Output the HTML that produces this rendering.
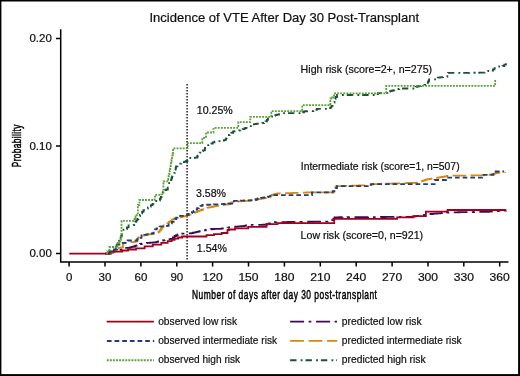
<!DOCTYPE html>
<html><head><meta charset="utf-8"><style>
html,body{margin:0;padding:0;background:#fff;}
body{width:520px;height:376px;overflow:hidden;}
svg{display:block;}
text{font-family:"Liberation Sans",sans-serif;fill:#111;stroke:#111;stroke-width:0.22px;}
</style></head><body>
<svg style="will-change:transform" width="520" height="376" viewBox="0 0 520 376">
<rect x="0" y="0" width="520" height="376" fill="#fff"/>
<!-- border -->
<rect x="0" y="0" width="1.4" height="376" fill="#000"/><rect x="0" y="0" width="520" height="1.5" fill="#000"/><rect x="518.1" y="0" width="1.9" height="376" fill="#000"/><rect x="0" y="374.1" width="520" height="1.9" fill="#000"/>

<!-- title -->
<text x="149.5" y="21.6" font-size="13.6" textLength="269.5" lengthAdjust="spacingAndGlyphs">Incidence of VTE After Day 30 Post-Transplant</text>

<!-- axes -->
<g stroke="#000" stroke-width="1.5" fill="none">
<path d="M60.7,29.3 V262.1 H508.5"/>
<path d="M56,38.4 H60 M56,145.9 H60 M56,253.5 H60"/>
<path d="M69.1,262 V266.5 M105,262 V266.5 M140.9,262 V266.5 M176.8,262 V266.5 M212.6,262 V266.5 M248.5,262 V266.5 M284.4,262 V266.5 M320.3,262 V266.5 M356.2,262 V266.5 M392.1,262 V266.5 M428,262 V266.5 M463.8,262 V266.5 M499.7,262 V266.5"/>
</g>

<!-- y tick labels -->
<g font-size="11.5" text-anchor="end">
<text x="51.8" y="42.2">0.20</text>
<text x="51.8" y="149.7">0.10</text>
<text x="51.8" y="257.3">0.00</text>
</g>
<!-- x tick labels -->
<g font-size="11.5" text-anchor="middle">
<text x="69.1" y="280.8">0</text>
<text x="105" y="280.8">30</text>
<text x="140.9" y="280.8">60</text>
<text x="176.8" y="280.8">90</text>
<text x="212.6" y="280.8" textLength="20.2" lengthAdjust="spacingAndGlyphs">120</text>
<text x="248.5" y="280.8" textLength="20.2" lengthAdjust="spacingAndGlyphs">150</text>
<text x="284.4" y="280.8" textLength="20.2" lengthAdjust="spacingAndGlyphs">180</text>
<text x="320.3" y="280.8" textLength="20.2" lengthAdjust="spacingAndGlyphs">210</text>
<text x="356.2" y="280.8" textLength="20.2" lengthAdjust="spacingAndGlyphs">240</text>
<text x="392.1" y="280.8" textLength="20.2" lengthAdjust="spacingAndGlyphs">270</text>
<text x="428" y="280.8" textLength="20.2" lengthAdjust="spacingAndGlyphs">300</text>
<text x="463.8" y="280.8" textLength="20.2" lengthAdjust="spacingAndGlyphs">330</text>
<text x="499.7" y="280.8" textLength="20.2" lengthAdjust="spacingAndGlyphs">360</text>
</g>

<!-- axis titles -->
<text transform="translate(192,299.2) scale(0.63,1)" x="0" y="0" font-size="13.4" textLength="293.6" lengthAdjust="spacing" style="fill:#000;stroke:#000;stroke-width:0.5">Number of days after day 30 post-transplant</text>
<text transform="translate(21.3,167.2) rotate(-90) scale(0.63,1)" x="0" y="0" font-size="13.2" textLength="67.5" lengthAdjust="spacing" style="fill:#000;stroke:#000;stroke-width:0.5">Probability</text>

<!-- vertical dotted line at day 100 -->
<path d="M187.1,84 V261" stroke="#111" stroke-width="1.4" stroke-dasharray="1.5 1.5" fill="none"/>

<!-- annotations -->
<g font-size="10.6">
<text x="196.8" y="113.7">10.25%</text>
<text x="196" y="196.8">3.58%</text>
<text x="196.8" y="252.3">1.54%</text>
<text x="300.6" y="73.0" textLength="131.5" lengthAdjust="spacingAndGlyphs">High risk (score=2+, n=275)</text>
<text x="300.8" y="169.8" textLength="158.8" lengthAdjust="spacingAndGlyphs">Intermediate risk (score=1, n=507)</text>
<text x="300.6" y="238.7">Low risk (score=0, n=921)</text>
</g>

<!-- curves -->
<g fill="none" stroke-width="1.8" stroke-linejoin="miter">
<!-- predicted low (purple dash-dot) -->
<path stroke="#3e0a55" stroke-dasharray="14 4.5 2.7 4.8" d="M105.00,253.60L109.00,253.60H111.00V252.70H113.00V251.80H114.53V251.13H116.07V250.47H117.60V249.80L122.30,249.80H123.75V248.80H125.20V247.80L128.10,247.80H129.90V247.37H131.70V246.93H133.50V246.50H135.03V245.87H136.57V245.23H138.10V244.60H140.00V244.00H141.72V243.72H143.45V243.45H145.18V243.18H146.90V242.90H148.52V242.78H150.14V242.66H151.76V242.54H153.38V242.42H155.00V242.30H156.57V241.88H158.15V241.45H159.73V241.03H161.30V240.60H162.93V240.30H164.57V240.00H166.20V239.70H167.83V239.40H169.47V239.10H171.10V238.80H172.85V237.40H174.60V236.00H176.13V235.23H177.67V234.47H179.20V233.70H180.69V233.66H182.17V233.61H183.66V233.57H185.14V233.53H186.63V233.49H188.11V233.44H189.60V233.40H191.32V233.03H193.05V232.65H194.78V232.28H196.50V231.90H198.00V231.55H199.50V231.20H201.00V230.85H202.50V230.50H204.13V230.25H205.77V230.00H207.40V229.75H209.03V229.50H210.67V229.25H212.30V229.00H214.03V228.95H215.75V228.90H217.47V228.85H219.20V228.80H220.92V228.55H222.65V228.30H224.38V228.05H226.10V227.80H227.65V227.62H229.20V227.43H230.75V227.25H232.30V227.07H233.85V226.88H235.40V226.70H236.90V226.58H238.40V226.46H239.90V226.34H241.40V226.22H242.90V226.10H244.32V225.80H245.75V225.50H247.18V225.20H248.60V224.90L261.20,224.90H262.80V224.77H264.40V224.63H266.00V224.50H267.43V223.93H268.85V223.35H270.27V222.77H271.70V222.20H273.30V222.18H274.89V222.16H276.49V222.14H278.09V222.12H279.69V222.11H281.28V222.09H282.88V222.07H284.48V222.05H286.08V222.03H287.67V222.01H289.27V221.99H290.87V221.97H292.46V221.95H294.06V221.94H295.66V221.92H297.26V221.90H298.85V221.88H300.45V221.86H302.05V221.84H303.65V221.82H305.24V221.80H306.84V221.78H308.44V221.76H310.04V221.75H311.63V221.73H313.23V221.71H314.83V221.69H316.42V221.67H318.02V221.65H319.62V221.63H321.22V221.61H322.81V221.59H324.41V221.58H326.01V221.56H327.61V221.54H329.20V221.52H330.80V221.50H332.07V220.10H333.33V218.70H334.60V217.30H336.20V217.29H337.80V217.28H339.39V217.27H340.99V217.26H342.59V217.25H344.19V217.24H345.79V217.23H347.38V217.22H348.98V217.21H350.58V217.20H352.18V217.19H353.78V217.18H355.37V217.16H356.97V217.15H358.57V217.14H360.17V217.13H361.76V217.12H363.36V217.11H364.96V217.10H366.56V217.09H368.16V217.08H369.75V217.07H371.35V217.06H372.95V217.05H374.55V217.04H376.15V217.03H377.74V217.02H379.34V217.01H380.94V217.00H382.54V216.99H384.14V216.98H385.73V216.97H387.33V216.96H388.93V216.95H390.53V216.94H392.12V216.93H393.72V216.91H395.32V216.90H396.92V216.89H398.52V216.88H400.11V216.87H401.71V216.86H403.31V216.85H404.91V216.84H406.51V216.83H408.10V216.82H409.70V216.81H411.30V216.80H412.90V216.55H414.50V216.30H416.10V216.05H417.70V215.80H419.30V215.55H420.90V215.30H422.50V215.05H424.10V214.80H425.70V214.55H427.30V214.30H428.93V214.15H430.56V214.01H432.19V213.86H433.82V213.72H435.45V213.57H437.08V213.42H438.72V213.28H440.35V213.13H441.98V212.98H443.61V212.84H445.24V212.69H446.87V212.55H448.50V212.40H450.10V212.38H451.70V212.35H453.30V212.33H454.90V212.30H456.50V212.28H458.10V212.25H459.70V212.22H461.30V212.20H462.90V212.18H464.50V212.15H466.10V212.12H467.70V212.10H469.30V212.08H470.90V212.05H472.50V212.03H474.10V212.00H475.70V211.98H477.30V211.95H478.90V211.93H480.50V211.90H482.10V211.88H483.70V211.85H485.30V211.83H486.90V211.80H488.44V211.66H489.98V211.52H491.52V211.38H493.06V211.24H494.60V211.10H496.23V211.01H497.86V210.93H499.49V210.84H501.11V210.76H502.74V210.67H504.37V210.59H506.00V210.50"/>
<!-- predicted intermediate (orange dashed) -->
<path stroke="#da870c" stroke-dasharray="13.8 4.7" d="M105.00,253.60L108.00,253.60H110.00V252.55H112.00V251.50H113.87V250.33H115.73V249.17H117.60V248.00L119.40,248.00H121.15V247.30H122.90V246.60L122.90,243.40H124.10V242.80H125.55V242.65H127.00V242.50H128.62V242.35H130.25V242.20H131.88V242.05H133.50V241.90H134.85V241.60H136.20V241.30H137.15V239.30H138.10V237.30H139.60V236.76H141.10V236.22H142.60V235.68H144.10V235.14H145.60V234.60H147.20V234.46H148.80V234.32H150.40V234.18H152.00V234.04H153.60V233.90H155.17V233.23H156.73V232.57H158.30V231.90H159.62V230.25H160.95V228.60H162.28V226.95H163.60V225.30H165.37V224.17H167.13V223.03H168.90V221.90H170.47V220.80H172.03V219.70H173.60V218.60H175.37V218.17H177.13V217.73H178.90V217.30H180.55V216.98H182.20V216.65H183.85V216.32H185.50V216.00H187.16V215.34H188.81V214.69H190.47V214.03H192.13V213.37H193.79V212.71H195.44V212.06H197.10V211.40H198.84V210.70H200.58V210.00H202.32V209.30H204.06V208.60H205.80V207.90H207.33V207.61H208.87V207.32H210.40V207.03H211.93V206.74H213.47V206.46H215.00V206.17H216.53V205.88H218.07V205.59H219.60V205.30H221.32V205.08H223.05V204.85H224.78V204.62H226.50V204.40H228.22V203.75H229.95V203.10H231.68V202.45H233.40V201.80H234.97V201.68H236.55V201.56H238.12V201.45H239.69V201.33H241.26V201.21H242.84V201.09H244.41V200.97H245.98V200.85H247.55V200.74H249.13V200.62H250.70V200.50H252.19V200.24H253.67V199.99H255.16V199.73H256.64V199.47H258.13V199.21H259.61V198.96H261.10V198.70H262.83V198.27H264.55V197.85H266.27V197.43H268.00V197.00H269.75V195.95H271.50V194.90H272.95V194.55H274.40V194.20H275.85V193.85H277.30V193.50H279.04V193.44H280.78V193.38H282.52V193.32H284.26V193.26H286.00V193.20H287.62V193.14H289.24V193.09H290.86V193.03H292.48V192.97H294.09V192.92H295.71V192.86H297.33V192.81H298.95V192.75H300.57V192.69H302.19V192.64H303.81V192.58H305.42V192.53H307.04V192.47H308.66V192.41H310.28V192.36H311.90V192.30L332.70,192.30H333.55V190.78H334.40V189.25H335.25V187.72H336.10V186.20H337.74V186.15H339.37V186.10H341.00V186.05H342.64V186.00H344.28V185.95H345.91V185.90H347.55V185.85H349.18V185.80H350.81V185.75H352.45V185.70H354.09V185.65H355.72V185.60H357.36V185.55H358.99V185.50H360.62V185.45H362.26V185.40H363.90V185.35H365.53V185.30H367.17V185.25H368.80V185.20H370.75V184.70H372.70V184.20H374.28V184.15H375.86V184.09H377.44V184.04H379.01V183.99H380.59V183.93H382.17V183.88H383.75V183.82H385.33V183.77H386.91V183.72H388.49V183.66H390.06V183.61H391.64V183.56H393.22V183.50H394.80V183.45H396.38V183.40H397.96V183.34H399.54V183.29H401.11V183.24H402.69V183.18H404.27V183.13H405.85V183.07H407.43V183.02H409.01V182.97H410.59V182.91H412.16V182.86H413.74V182.81H415.32V182.75H416.90V182.70H418.85V182.00H420.80V181.30H422.23V180.83H423.65V180.35H425.07V179.88H426.50V179.40H428.12V179.16H429.74V178.92H431.36V178.68H432.98V178.44H434.60V178.20H436.13V177.93H437.67V177.67H439.20V177.40H440.73V177.13H442.27V176.87H443.80V176.60H445.37V176.30H446.93V176.00H448.50V175.70H450.12V175.69H451.73V175.67H453.35V175.66H454.96V175.64H456.57V175.62H458.19V175.61H459.81V175.59H461.42V175.58H463.04V175.56H464.65V175.55H466.26V175.53H467.88V175.52H469.50V175.50H471.11V175.49H472.73V175.47H474.34V175.46H475.95V175.44H477.57V175.43H479.19V175.41H480.80V175.40H482.33V175.27H483.87V175.13H485.40V175.00H486.93V174.87H488.47V174.73H490.00V174.60H491.54V174.20H493.08V173.80H494.62V173.40H496.16V173.00H497.70V172.60H499.16V172.48H500.62V172.36H502.08V172.24H503.54V172.12H505.00V172.00"/>
<!-- predicted high (dark green dash-dot) -->
<path stroke="#1b5136" stroke-dasharray="6.4 4.2 1.8 3" d="M105.00,253.60L108.50,253.60H109.75V252.55H111.00V251.50H112.50V250.75H114.00V250.00H114.83V248.50H115.67V247.00H116.50V245.50H117.00V243.50H117.50V241.50H119.05V239.50H120.60V237.50H121.23V235.67H121.87V233.83H122.50V232.00H123.50V229.70H125.30V229.20H126.95V227.35H128.60V225.50H130.30V225.33H132.00V225.17H133.70V225.00H134.20V223.10H135.27V221.73H136.33V220.37H137.40V219.00H138.35V217.60H139.30V216.20H140.00V214.80H140.70V213.40H142.10V211.75H143.50V210.10H145.10V209.20H146.70V208.30H147.95V207.45H149.20V206.60H150.85V205.20H152.50V203.80H153.40V202.50H154.30V201.20H155.87V200.97H157.43V200.73H159.00V200.50H159.90V198.75H160.80V197.00H161.50V195.25H162.20V193.50H162.70V192.10H163.20V190.70H164.73V190.10H166.27V189.50H167.80V188.90L167.80,184.20H169.20V182.80H170.60V181.40H171.08V179.70H171.56V178.00H172.04V176.30H172.52V174.60H173.00V172.90H174.80V171.70H175.20V169.90H175.60V168.10H176.00V166.30H177.50V165.45H179.00V164.60H180.20V163.70H181.40V162.80H182.97V162.20H184.53V161.60H186.10V161.00H187.50V160.00H188.90V159.00H190.30V158.00H191.93V157.88H193.55V157.75H195.18V157.62H196.80V157.50H197.40V155.75H198.00V154.00H199.60V152.60H201.20V151.20H203.00V150.40H204.80V149.60H204.93V148.13H205.07V146.67H205.20V145.20H206.80V145.13H208.40V145.07H210.00V145.00H211.35V143.65H212.70V142.30H214.45V141.75H216.20V141.20H217.73V141.13H219.27V141.07H220.80V141.00H222.33V140.53H223.87V140.07H225.40V139.60H226.05V138.35H226.70V137.10H228.00V135.00H229.60V134.20H231.35V132.75H233.10V131.30H234.60V131.08H236.10V130.86H237.60V130.64H239.10V130.42H240.60V130.20H242.60V129.20H244.60V128.20H246.05V127.85H247.50V127.50H249.20V126.05H250.90V124.60H252.54V124.38H254.18V124.15H255.81V123.92H257.45V123.70H259.09V123.47H260.73V123.25H262.36V123.02H264.00V122.80H265.45V121.30H266.90V119.80H268.00V117.50H269.37V117.10H270.73V116.70H272.10V116.30H273.63V115.73H275.17V115.17H276.70V114.60H279.00V113.20L301.00,113.20H302.50V112.25H304.00V111.30H305.57V111.25H307.13V111.20H308.70V111.15H310.27V111.10H311.83V111.05H313.40V111.00H315.10V109.90H316.80V108.80L326.40,108.80H328.30V108.20H330.20V107.60H331.40V105.90H332.60V104.20H333.55V102.60H334.50V101.00H335.00V99.00H335.50V97.00H337.00V95.00L375.00,95.00H376.50V94.10H378.00V93.20H379.60V93.12H381.20V93.04H382.80V92.96H384.40V92.88H386.00V92.80H387.37V92.23H388.73V91.67H390.10V91.10H391.47V90.77H392.83V90.43H394.20V90.10H395.85V89.55H397.50V89.00H399.30V88.83H401.10V88.67H402.90V88.50L413.00,88.50H414.35V87.65H415.70V86.80H417.44V86.40H419.18V86.00H420.92V85.60H422.66V85.20H424.40V84.80H426.10V83.45H427.80V82.10H428.45V80.75H429.10V79.40L434.50,79.40H436.20V78.55H437.90V77.70H439.64V77.46H441.38V77.22H443.12V76.98H444.86V76.74H446.60V76.50H447.30V74.70H448.00V72.90H449.64V72.89H451.28V72.88H452.91V72.87H454.55V72.86H456.19V72.85H457.83V72.84H459.47V72.83H461.10V72.82H462.74V72.81H464.38V72.80H466.02V72.80H467.66V72.79H469.30V72.78H470.93V72.77H472.57V72.76H474.21V72.75H475.85V72.74H477.49V72.73H479.12V72.72H480.76V72.71H482.40V72.70H484.70V71.30H486.43V71.12H488.15V70.95H489.88V70.77H491.60V70.60H493.03V69.33H494.47V68.07H495.90V66.80H497.57V66.60H499.25V66.40H500.93V66.20H502.60V66.00H504.25V64.65H505.90V63.30"/>
<!-- observed low (red solid) -->
<path stroke="#a2001c" d="M69.3,253.6 H109.1 V251.7 H122.3 V250.5 H128 V249.5 H136 V248.3 H144.6 V246.3 H152.7 V244.6 H161.3 V242.9 H167.7 V241.1 H171.7 V239.8 H174.6 V238.6 H178.1 V237.5 H182.1 V236.5 H206.5 V235.1 H214 V234.1 H221.7 V233 H227.5 V230 H229 V229.5 H235 V228.4 H248.2 V226.8 H266.5 V224.2 H277.5 V223.2 H334.2 V218.9 H397.1 V217.3 H413.3 V216.1 H425.9 V211.6 H447.5 V210 H506.2"/>
<!-- observed intermediate (blue dashed) -->
<path stroke="#1e3d7c" stroke-dasharray="4.7 2.96" d="M109.60,253.60L109.60,251.50L111.50,251.50L111.50,249.50L117.30,249.50L117.30,244.50H119.40V242.80L127.60,242.80L127.60,240.50L137.30,240.50L137.30,237.80L141.50,237.80L141.50,235.50H143.00V235.20H144.55V234.87H146.10V234.53H147.65V234.20H149.20V233.87H150.75V233.53H152.30V233.20H153.65V231.25H155.00V229.30H156.53V228.40H158.07V227.50H159.60V226.60H161.06V226.46H162.52V226.32H163.98V226.18H165.44V226.04H166.90V225.90H168.55V224.60H170.20V223.30H171.90V221.95H173.60V220.60H174.93V219.07H176.27V217.53H177.60V216.00H179.18V215.94H180.76V215.88H182.34V215.82H183.92V215.76H185.50V215.70H187.10V214.82H188.70V213.95H190.30V213.07H191.90V212.20H193.65V210.90H195.40V209.60H197.10V208.15H198.80V206.70H200.55V205.85H202.30V205.00H203.93V204.92H205.57V204.84H207.20V204.77H208.83V204.69H210.47V204.61H212.10V204.53H213.73V204.46H215.37V204.38H217.00V204.30H218.63V204.22H220.27V204.14H221.90V204.07H223.53V203.99H225.17V203.91H226.80V203.83H228.43V203.76H230.07V203.68H231.70V203.60H232.15V202.30H232.60V201.00H234.26V200.93H235.92V200.86H237.58V200.79H239.25V200.72H240.91V200.65H242.57V200.58H244.23V200.52H245.89V200.45H247.55V200.38H249.22V200.31H250.88V200.24H252.54V200.17H254.20V200.10H255.95V199.25H257.70V198.40H259.42V198.12H261.13V197.83H262.85V197.55H264.57V197.27H266.28V196.98H268.00V196.70H270.40V195.20L312.00,195.20L312.00,192.30L331.00,192.30H332.70V191.25H334.40V190.20H335.70V188.20H337.00V186.20L371.00,186.20L371.00,184.20L434.60,184.20L434.60,180.00L446.00,180.00L446.00,177.70L482.00,177.70L482.00,174.90L493.50,174.90L493.50,171.50L504.00,171.50"/>
<!-- observed high (green dotted) -->
<path stroke="#56a232" stroke-dasharray="1.9 1.18" d="M106.30,253.60H107.10V251.30L109.40,251.30L109.40,247.00L117.60,247.00L117.60,243.00H118.80V241.50H120.00V240.00H120.75V238.60H121.50V237.20L121.50,220.80L132.80,220.80H134.50V219.00H135.00V217.75H135.50V216.50H136.70V215.25H137.90V214.00L137.90,205.00H139.40V203.00L139.40,200.00L154.30,200.00H154.63V198.27H154.97V196.53H155.30V194.80L159.50,194.80H161.45V194.40H163.40V194.00L163.40,181.30L166.40,181.30H167.30V179.50H168.20V177.70H168.60V175.90H169.00V174.10H169.40V172.30H169.70V170.65H170.00V169.00H170.30V167.35H170.60V165.70H170.80V164.33H171.00V162.97H171.20V161.60H171.50V160.00H171.80V158.40H172.10V156.80H172.40V155.20H172.70V153.60H173.00V152.00L173.00,148.30L187.60,148.30L187.60,143.20L202.30,143.20L202.30,137.90L206.00,137.90L206.00,132.50L213.50,132.50L213.50,127.90L238.30,127.90L238.30,122.20L250.20,122.20L250.20,116.90L271.30,116.90L271.30,111.10L302.20,111.10L302.20,105.20L330.40,105.20L330.40,98.50H332.20V97.50H334.00V96.50L334.00,93.30L386.20,93.30L386.20,85.90L495.20,85.90L495.20,80.00"/>
</g>

<!-- legend -->
<g fill="none" stroke-width="1.9">
<path stroke="#a2001c" d="M106.7,321.6 H153.9"/>
<path stroke="#1e3d7c" stroke-dasharray="4.7 2.96" d="M106.9,341 H154.2"/>
<path stroke="#56a232" stroke-dasharray="1.9 1.18" d="M106.8,360.2 H153.9"/>
<path stroke="#3e0a55" stroke-dasharray="14 4.5 2.7 4.8" d="M290.1,321.6 H337"/>
<path stroke="#da870c" stroke-dasharray="13.8 4.7" d="M290.1,340.9 H337.2"/>
<path stroke="#1b5136" stroke-dasharray="6.4 4.2 1.8 3" d="M290.1,360.3 H337"/>
</g>
<g font-size="11.2">
<text x="158.2" y="324.6" textLength="78.8" lengthAdjust="spacingAndGlyphs">observed low risk</text>
<text x="158.2" y="343.8" textLength="118.9" lengthAdjust="spacingAndGlyphs">observed intermediate risk</text>
<text x="158.2" y="363.2" textLength="81.9" lengthAdjust="spacingAndGlyphs">observed high risk</text>
<text x="341.8" y="324.6" textLength="79.8" lengthAdjust="spacingAndGlyphs">predicted low risk</text>
<text x="341.8" y="343.8" textLength="119.8" lengthAdjust="spacingAndGlyphs">predicted intermediate risk</text>
<text x="341.8" y="363.2" textLength="83.8" lengthAdjust="spacingAndGlyphs">predicted high risk</text>
</g>
</svg>
</body></html>
